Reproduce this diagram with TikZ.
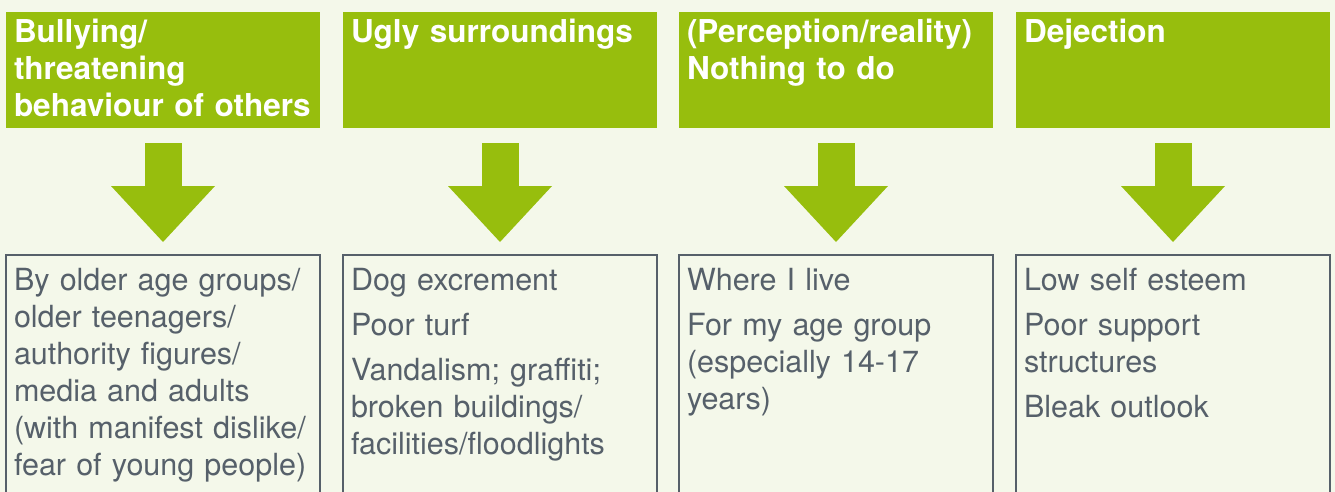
\documentclass[tikz,border=0pt]{standalone}
\usepackage{fontspec}
\setmainfont{TeX Gyre Heros}
\usetikzlibrary{arrows.meta}
\definecolor{leafgreen}{HTML}{97BE0D}
\definecolor{paper}{HTML}{F4F8EA}
\definecolor{slate}{HTML}{56606A}

\begin{document}
\begin{tikzpicture}[x=1pt,y=-1pt,
  head node/.style={anchor=north west,fill=leafgreen,text=white,inner sep=8pt,outer sep=0pt,text width=298pt,align=left,font=\fontsize{31.5}{37}\selectfont\bfseries,text height=23pt,text depth=77pt},
  box node/.style={anchor=north west,draw=slate,line width=2pt,text=slate,inner sep=8pt,outer sep=0pt,text width=298pt,align=left,font=\fontsize{30.5}{37}\selectfont,text height=27pt,text depth=230pt}]
\tikzstyle{down arrow} = [draw=leafgreen,line width=37pt,shorten <=15pt,shorten >=13pt,-{Triangle[width=104pt,length=56pt,line width=0pt]}]

\fill[paper] (0,0) rectangle (1335,492);
\useasboundingbox (0,0) rectangle (1335,492);
\clip (0,0) rectangle (1335,492);

% Bullying
\node[head node] (head1) at (6,12) {Bullying/\\threatening\\behaviour of others};
\node[box node] (box1) at (6,255) {By older age groups/\\older teenagers/\\authority figures/\\media and adults\\(with manifest dislike/\\fear of young people)};
\draw[down arrow] (head1.south) -- (box1.north);

% Ugly surroundings
\node[head node] (head2) at (343,12) {Ugly surroundings};
\node[box node] (box2) at (343,255) {Dog excrement\\[8pt]Poor turf\\[8pt]Vandalism; graffiti;\\broken buildings/\\facilities/floodlights};
\draw[down arrow] (head2.south) -- (box2.north);

% Nothing to do
\node[head node] (head3) at (679,12) {(Perception/reality)\\Nothing to do};
\node[box node] (box3) at (679,255) {Where I live\\[8pt]For my age group\\(especially 14-17\\years)};
\draw[down arrow] (head3.south) -- (box3.north);

% Dejection
\node[head node] (head4) at (1016,12) {Dejection};
\node[box node] (box4) at (1016,255) {Low self esteem\\[8pt]Poor support\\structures\\[8pt]Bleak outlook};
\draw[down arrow] (head4.south) -- (box4.north);

\end{tikzpicture}
\end{document}
